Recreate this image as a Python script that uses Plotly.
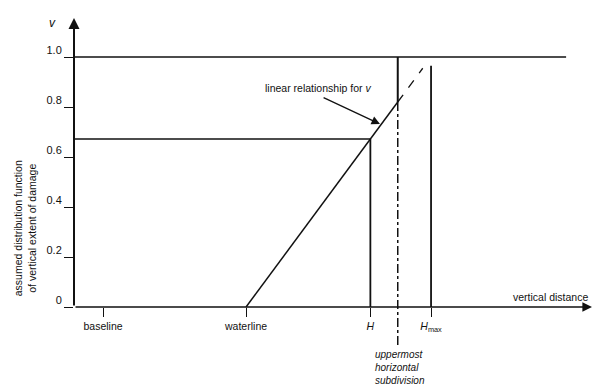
import plotly.graph_objects as go

# ---- data (v = assumed distribution function; x = vertical distance, waterline=0, Hmax=1) ----
x_axis_start = -0.93
x_axis_end = 1.87
x_baseline = -0.773
x_waterline = 0.0
x_H = 0.672
x_upper = 0.82
x_Hmax = 1.0
v_H = 0.672
v_max = 1.0
v_axis_top = 1.156
x_top_line_end = 1.73
v_dash_end = 0.955
v_Hmax_top = 0.965
v_upper_bottom = -0.152

y_tick_vals = [0, 0.2, 0.4, 0.6, 0.8, 1.0]
y_tick_text = ["0", "0.2", "0.4", "0.6", "0.8", "1.0"]
x_tick_vals = [x_baseline, x_waterline, x_H, x_Hmax]
x_tick_text = ["baseline", "waterline", "<i>H</i>", "<i>H</i><sub>max</sub>"]

FONT = "Liberation Sans, Arial, sans-serif"
BLACK = "#111111"

fig = go.Figure()

def seg(xs, ys, width=1.5, dash="solid"):
    fig.add_trace(go.Scatter(x=xs, y=ys, mode="lines", cliponaxis=False,
                             line=dict(color=BLACK, width=width, dash=dash),
                             hoverinfo="skip", showlegend=False))

# horizontal lines at v=1 and v(H)
seg([x_axis_start, x_top_line_end], [v_max, v_max], 1.7)
seg([x_axis_start, x_H], [v_H, v_H], 1.5)
# linear relationship (solid then dashed)
seg([x_waterline, x_upper], [x_waterline, x_upper], 1.5)
seg([x_upper, v_dash_end], [x_upper, v_dash_end], 1.3, "dash")
# vertical at H
seg([x_H, x_H], [0, v_H], 1.8)
# uppermost horizontal subdivision
seg([x_upper, x_upper], [x_upper, v_max], 2)
seg([x_upper, x_upper], [v_upper_bottom, x_upper], 1.5, "dashdot")
# vertical at Hmax
seg([x_Hmax, x_Hmax], [0, v_Hmax_top], 1.8)

annotations = [
    # y axis arrow
    dict(x=x_axis_start, y=v_axis_top, ax=x_axis_start, ay=0, xref="x", yref="y",
         axref="x", ayref="y", text="", showarrow=True, arrowhead=2, arrowsize=1.1,
         arrowwidth=2, arrowcolor=BLACK),
    # x axis arrow
    dict(x=x_axis_end, y=0, ax=x_axis_start, ay=0, xref="x", yref="y",
         axref="x", ayref="y", text="", showarrow=True, arrowhead=2, arrowsize=1.2,
         arrowwidth=1.6, arrowcolor=BLACK),
    # annotation arrow
    dict(x=0.724, y=0.732, ax=0.411, ay=0.84, xref="x", yref="y",
         axref="x", ayref="y", text="", showarrow=True, arrowhead=2, arrowsize=1.3,
         arrowwidth=1.3, arrowcolor=BLACK),
    dict(x=0.389, y=0.876, xref="x", yref="y", text="linear relationship for <i>v</i>",
         xanchor="center", showarrow=False, font=dict(size=10.5, family=FONT, color=BLACK)),
    dict(x=1.643, y=0.04, xref="x", yref="y", text="vertical distance",
         xanchor="center", showarrow=False, font=dict(size=10.5, family=FONT, color=BLACK)),
    dict(x=0.686, y=-0.16, xref="x", yref="y", xanchor="left", yanchor="top", align="left",
         text="<i>uppermost<br>horizontal<br>subdivision</i>",
         showarrow=False, font=dict(size=10, family=FONT, color=BLACK)),
    dict(x=-0.0418, y=0.965, xref="paper", yref="paper", text="<i>v</i>",
         xanchor="center", yanchor="middle",
         showarrow=False, font=dict(size=12, family=FONT, color=BLACK)),
    dict(x=-0.093, y=0.412, xref="paper", yref="paper", textangle=-90,
         xanchor="center", yanchor="middle",
         text="assumed distribution function<br>of vertical extent of damage",
         showarrow=False, font=dict(size=10.5, family=FONT, color=BLACK)),
]

fig.update_layout(
    width=605, height=391,
    margin=dict(l=74, r=5, t=10, b=10),
    paper_bgcolor="white", plot_bgcolor="white",
    showlegend=False,
    annotations=annotations,
    xaxis=dict(range=[x_axis_start, x_axis_start + 526 / 185], showgrid=False, zeroline=False,
               showline=False, anchor="free", position=(381 - 307) / 371, automargin=False,
               tickvals=x_tick_vals, ticktext=x_tick_text, ticks="outside", ticklen=9,
               tickwidth=1.3, tickcolor=BLACK,
               tickfont=dict(size=10.5, family=FONT, color=BLACK), fixedrange=True),
    yaxis=dict(range=[-0.296, 1.188], showgrid=False, zeroline=False, showline=False,
               automargin=False,
               tickvals=y_tick_vals, ticktext=y_tick_text, ticks="outside", ticklen=9,
               tickwidth=1.3, tickcolor=BLACK, ticklabelshift=-7,
               tickfont=dict(size=11, family=FONT, color=BLACK), fixedrange=True),
)

fig.write_html("out.html", config={"displayModeBar": False},
               post_script="document.body.style.margin='0';document.body.style.overflow='hidden';")
